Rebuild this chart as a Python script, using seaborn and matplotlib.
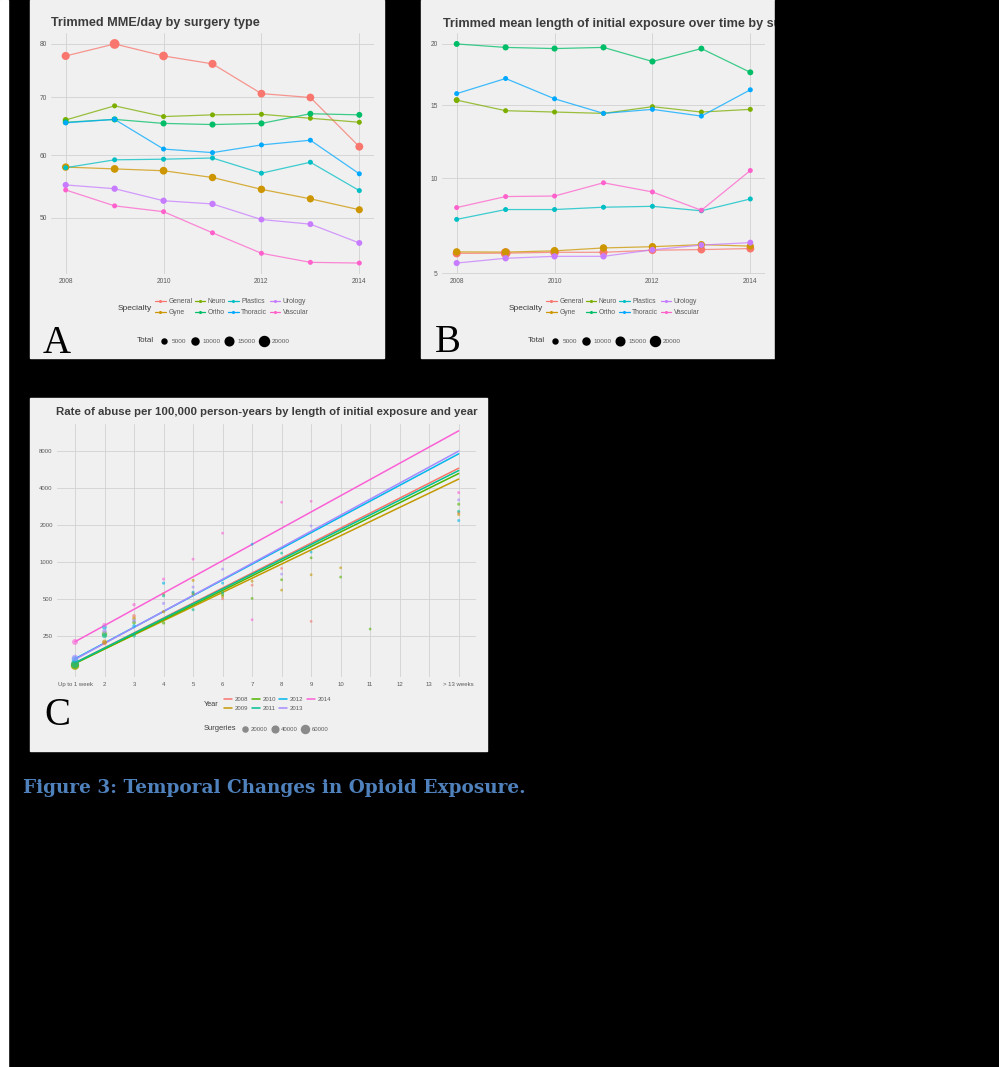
import numpy as np
import pandas as pd
import matplotlib.pyplot as plt
import seaborn as sns
from matplotlib.lines import Line2D
from matplotlib.patches import Rectangle
from matplotlib.ticker import NullLocator

W, H = 999, 1067

# ---- panels A/B data (one list per specialty, years 2008..2014) ----
years = [2008, 2009, 2010, 2011, 2012, 2013, 2014]
specialties = ['General', 'Gyne', 'Neuro', 'Ortho', 'Plastics', 'Thoracic', 'Urology', 'Vascular']
spec_colors = ['#F8766D', '#CD9600', '#7CAE00', '#00BE67', '#00BFC4', '#00A9FF', '#C77CFF', '#FF61CC']

mme_general = [77.7, 80.0, 77.7, 76.2, 70.7, 70.0, 61.4]
mme_gyne = [58.0, 57.7, 57.4, 56.3, 54.4, 52.9, 51.2]
mme_neuro = [66.0, 68.5, 66.6, 66.9, 67.0, 66.3, 65.6]
mme_ortho = [65.6, 66.1, 65.4, 65.2, 65.4, 67.1, 66.9]
mme_plastics = [57.9, 59.2, 59.3, 59.5, 57.0, 58.8, 54.2]
mme_thoracic = [65.5, 66.1, 61.0, 60.4, 61.7, 62.5, 56.9]
mme_urology = [55.1, 54.5, 52.6, 52.1, 49.7, 49.0, 46.2]
mme_vascular = [54.3, 51.8, 50.9, 47.7, 44.7, 43.4, 43.3]

days_general = [5.90, 5.91, 5.95, 5.95, 6.05, 6.08, 6.13]
days_gyne = [5.97, 5.96, 6.02, 6.16, 6.22, 6.32, 6.25]
days_neuro = [15.4, 14.6, 14.5, 14.4, 14.9, 14.5, 14.7]
days_ortho = [20.0, 19.7, 19.6, 19.7, 18.5, 19.6, 17.6]
days_plastics = [7.62, 8.16, 8.16, 8.29, 8.34, 8.09, 8.76]
days_thoracic = [15.9, 17.1, 15.5, 14.4, 14.7, 14.2, 16.2]
days_urology = [5.45, 5.67, 5.76, 5.76, 6.07, 6.30, 6.42]
days_vascular = [8.27, 8.90, 8.93, 9.72, 9.17, 8.12, 10.48]

total_general = [13000, 19000, 15000, 13000, 12000, 12000, 12500]
total_gyne = [11000, 12000, 12000, 11000, 11000, 10500, 10000]
total_neuro = [7000, 5000, 4500, 4500, 4500, 4500, 4500]
total_ortho = [7000, 7500, 7500, 7500, 7500, 7000, 7000]
total_plastics = [3500, 4500, 4500, 4500, 4500, 4500, 4500]
total_thoracic = [2500, 2500, 2500, 2500, 2500, 2500, 2500]
total_urology = [7500, 8000, 8000, 8000, 7000, 7000, 7000]
total_vascular = [3000, 3000, 3000, 3000, 3000, 3000, 3000]

mme_lists = [mme_general, mme_gyne, mme_neuro, mme_ortho, mme_plastics, mme_thoracic, mme_urology, mme_vascular]
days_lists = [days_general, days_gyne, days_neuro, days_ortho, days_plastics, days_thoracic, days_urology, days_vascular]
total_lists = [total_general, total_gyne, total_neuro, total_ortho, total_plastics, total_thoracic, total_urology, total_vascular]
total_breaks = [5000, 10000, 15000, 20000]

# ---- panel C data ----
exposure_labels = ['Up to 1 week', '2', '3', '4', '5', '6', '7', '8', '9', '10', '11', '12', '13', '> 13 weeks']
abuse_years = ['2008', '2009', '2010', '2011', '2012', '2013', '2014']
year_colors = ['#F8766D', '#C49A00', '#53B400', '#00C094', '#00B6EB', '#A58AFF', '#FB61D7']

c_exposure = [1, 1, 1, 1, 1, 1, 1,
              2, 2, 2, 2, 2, 2, 2,
              3, 3, 3, 3, 3, 3, 3,
              4, 4, 4, 4, 4, 4, 4,
              5, 5, 5, 5, 5, 5, 5,
              6, 6, 6, 6, 6, 6, 6,
              7, 7, 7, 7, 7,
              8, 8, 8, 8, 8, 8,
              9, 9, 9, 9, 9, 9,
              10, 10, 11,
              14, 14, 14, 14, 14, 14, 14]
c_year = ['2008', '2009', '2010', '2011', '2012', '2013', '2014',
          '2008', '2009', '2010', '2011', '2012', '2013', '2014',
          '2008', '2009', '2010', '2011', '2012', '2013', '2014',
          '2008', '2009', '2010', '2011', '2012', '2013', '2014',
          '2008', '2009', '2010', '2011', '2012', '2013', '2014',
          '2008', '2009', '2010', '2011', '2012', '2013', '2014',
          '2008', '2009', '2010', '2012', '2014',
          '2008', '2009', '2010', '2011', '2013', '2014',
          '2008', '2009', '2010', '2012', '2013', '2014',
          '2009', '2010', '2010',
          '2008', '2009', '2010', '2011', '2012', '2013', '2014']
c_rate = [146, 142, 143, 147, 160, 165, 222,
          218, 222, 258, 250, 292, 272, 305,
          362, 345, 320, 250, 300, 332, 447,
          549, 392, 317, 529, 670, 458, 723,
          560, 705, 548, 407, 565, 622, 1051,
          500, 522, 539, 560, 670, 872, 1712,
          645, 695, 503, 1392, 337,
          883, 588, 714, 1177, 794, 3060,
          327, 784, 1078, 1199, 1963, 3117,
          894, 751, 283,
          2520, 2430, 2950, 2580, 2170, 3200, 3670]
c_surgeries = [62000, 65000, 63000, 60000, 38000, 35000, 30000,
               16000, 17000, 24000, 20000, 15000, 14000, 12000,
               7000, 7000, 7500, 7000, 6500, 6000, 5000,
               3500, 3500, 3500, 3500, 3000, 3000, 2500,
               2000, 2000, 2000, 2000, 1800, 1800, 1500,
               1500, 1500, 1500, 1500, 1300, 1300, 1000,
               1000, 1000, 1000, 900, 800,
               900, 900, 900, 900, 800, 700,
               700, 700, 700, 600, 600, 500,
               600, 600, 500,
               2500, 2500, 2500, 2500, 2200, 2200, 2000]
surgery_breaks = [20000, 40000, 60000]

# fitted trend lines (value at first and last exposure category)
fit_start = [150, 149, 148, 150, 162, 160, 223]
fit_end = [5800, 4730, 5250, 5550, 7600, 8000, 11700]

rows = []
for sp, m, d, t in zip(specialties, mme_lists, days_lists, total_lists):
    for yr, mv, dv, tv in zip(years, m, d, t):
        rows.append((sp, yr, mv, dv, tv))
df_spec = pd.DataFrame(rows, columns=['Specialty', 'year', 'mme', 'days', 'Total'])

df_abuse = pd.DataFrame({'exposure': c_exposure, 'Year': c_year, 'rate': c_rate, 'Surgeries': c_surgeries})
fit_rows = []
for yr, a, b in zip(abuse_years, fit_start, fit_end):
    fit_rows.append((yr, 1, a))
    fit_rows.append((yr, 14, b))
df_fit = pd.DataFrame(fit_rows, columns=['Year', 'exposure', 'rate'])

sns.set_style('white')
plt.rcParams['font.family'] = ['Liberation Sans', 'DejaVu Sans']

BG = '#F0F0F0'
GRID = '#D2D2D2'
TXT = '#3C3C3C'
TICK = '#5A5A5A'


def rect(l, t, r, b):
    return [l / W, 1 - b / H, (r - l) / W, (b - t) / H]


def style(ax):
    ax.set_facecolor(BG)
    for s in ax.spines.values():
        s.set_visible(False)
    ax.grid(True, color=GRID, lw=0.6)
    ax.set_axisbelow(True)
    ax.tick_params(length=0, labelsize=4.8, colors=TICK, pad=3)
    ax.set_xlabel('')
    ax.set_ylabel('')


def sqrt_limits(vals):
    lo, hi = np.sqrt(min(vals)), np.sqrt(max(vals))
    pad = 0.05 * (hi - lo)
    return (lo - pad) ** 2, (hi + pad) ** 2


fig = plt.figure(figsize=(W / 100, H / 100), dpi=100, facecolor='black')

# panel backgrounds
for l, t, r, b in [(30, 0, 384, 358), (421, 0, 775, 358), (30, 398, 487, 751)]:
    fig.patches.append(Rectangle((l / W, 1 - b / H), (r - l) / W, (b - t) / H,
                                 transform=fig.transFigure, color=BG, zorder=-5))
fig.patches.append(Rectangle((0, 0), 8 / W, 1, transform=fig.transFigure, color='white', zorder=-5))


def spec_panel(ax, ycol, ticks):
    sns.lineplot(data=df_spec, x='year', y=ycol, hue='Specialty', hue_order=specialties,
                 palette=spec_colors, lw=0.9, alpha=0.75, legend=False, ax=ax)
    sns.scatterplot(data=df_spec, x='year', y=ycol, hue='Specialty', hue_order=specialties,
                    palette=spec_colors, size='Total', sizes=(13, 52), size_norm=(5000, 20000),
                    linewidth=0, legend=False, ax=ax, zorder=3)
    ax.set_yscale('function', functions=(np.sqrt, np.square))
    ax.set_ylim(*sqrt_limits(df_spec[ycol]))
    ax.set_yticks(ticks)
    ax.set_yticklabels([str(v) for v in ticks])
    ax.set_xlim(2007.7, 2014.3)
    ax.set_xticks([2008, 2010, 2012, 2014])
    ax.set_xticklabels(['2008', '2010', '2012', '2014'])
    ax.yaxis.set_minor_locator(NullLocator())
    style(ax)


def spec_legends(dx):
    handles = [Line2D([0], [0], color=c, lw=0.9, marker='o', markersize=2.2, markeredgewidth=0)
               for c in spec_colors]
    fig.legend(handles, specialties, ncol=4, loc='center left',
               bbox_to_anchor=((155.3 + dx) / W, 1 - 307 / H), frameon=False, fontsize=4.9,
               handlelength=1.5, handletextpad=0.4, columnspacing=0.35, labelspacing=0.6,
               borderpad=0, borderaxespad=0, labelcolor=TICK)
    fig.text((117.3 + dx) / W, 1 - 308 / H, 'Specialty', fontsize=6, color=TXT, va='center')
    sizes = [np.sqrt(13 + (v - 5000) * 39 / 15000) for v in total_breaks]
    sh = [Line2D([0], [0], ls='', marker='o', color='black', markersize=s) for s in sizes]
    fig.legend(sh, [str(v) for v in total_breaks], ncol=4, loc='center left',
               bbox_to_anchor=((159.2 + dx) / W, 1 - 341 / H), frameon=False, fontsize=4.6,
               handlelength=1.5, handletextpad=0.5, columnspacing=0.56,
               borderpad=0, borderaxespad=0, labelcolor=TICK)
    fig.text((137 + dx) / W, 1 - 341 / H, 'Total', fontsize=5.8, color=TXT, va='center')


def fit_width(txt, target):
    fig.canvas.draw()
    w = txt.get_window_extent().width
    txt.set_fontsize(txt.get_fontsize() * target / w)


# ---- A ----
ax_a = fig.add_axes(rect(51, 33, 374, 274))
spec_panel(ax_a, 'mme', [50, 60, 70, 80])
spec_legends(0)
t_a = fig.text(51 / W, 1 - 25.7 / H, 'Trimmed MME/day by surgery type', fontsize=9,
               fontweight='bold', color=TXT, va='baseline')
fit_width(t_a, 209.6)

# ---- B ----
ax_b = fig.add_axes(rect(442, 33, 765, 274))
spec_panel(ax_b, 'days', [5, 10, 15, 20])
spec_legends(391)
fig.text(443 / W, 1 - 26.7 / H, 'Trimmed mean length of initial exposure over time by surgery type',
         fontsize=t_a.get_fontsize(), fontweight='bold', color=TXT, va='baseline', zorder=3)
fig.patches.append(Rectangle((775 / W, 1 - 360 / H), (W - 775) / W, 360 / H,
                             transform=fig.transFigure, color='black', zorder=10))

# ---- C ----
ax_c = fig.add_axes(rect(57.3, 424, 476.4, 677))
sns.lineplot(data=df_fit, x='exposure', y='rate', hue='Year', hue_order=abuse_years,
             palette=year_colors, lw=1.1, legend=False, ax=ax_c)
sns.scatterplot(data=df_abuse, x='exposure', y='rate', hue='Year', hue_order=abuse_years,
                palette=year_colors, size='Surgeries', sizes=(4, 36), size_norm=(500, 65000),
                alpha=0.6, linewidth=0, legend=False, ax=ax_c, zorder=3)
ax_c.set_yscale('log', base=2)
ax_c.set_ylim(115, 13300)
ax_c.set_yticks([250, 500, 1000, 2000, 4000, 8000])
ax_c.set_yticklabels(['250', '500', '1000', '2000', '4000', '8000'])
ax_c.yaxis.set_minor_locator(NullLocator())
ax_c.set_xlim(0.4, 14.6)
ax_c.set_xticks(range(1, 15))
ax_c.set_xticklabels(exposure_labels)
style(ax_c)
ax_c.tick_params(labelsize=4.3, pad=3.3)

t_c = fig.text(56 / W, 1 - 415 / H,
               'Rate of abuse per 100,000 person-years by length of initial exposure and year',
               fontsize=8, fontweight='bold', color=TXT, va='baseline')
fit_width(t_c, 420)

yh = [Line2D([0], [0], color=c, lw=1.1) for c in year_colors]
fig.legend(yh, abuse_years, ncol=4, loc='center left', bbox_to_anchor=(224 / W, 1 - 704.2 / H),
           frameon=False, fontsize=4.3, handlelength=1.33, handletextpad=0.45, columnspacing=0.6,
           labelspacing=0.65, borderpad=0, borderaxespad=0, labelcolor=TICK)
fig.text(204 / W, 1 - 704 / H, 'Year', fontsize=5.3, color=TXT, va='center')
ssz = [np.sqrt(4 + (v - 500) * 32 / 64500) for v in surgery_breaks]
sh = [Line2D([0], [0], ls='', marker='o', color='#8A8A8A', markersize=s) for s in ssz]
fig.legend(sh, [str(v) for v in surgery_breaks], ncol=3, loc='center left',
           bbox_to_anchor=(241 / W, 1 - 729 / H), frameon=False, fontsize=4.3,
           handlelength=1.35, handletextpad=0.33, columnspacing=0.55,
           borderpad=0, borderaxespad=0, labelcolor=TICK)
fig.text(204 / W, 1 - 729 / H, 'Surgeries', fontsize=5.4, color=TXT, va='center')

# panel letters
fig.text(43 / W, 1 - 353 / H, 'A', fontsize=28, family='Liberation Serif', color='black', va='baseline')
fig.text(434.7 / W, 1 - 352 / H, 'B', fontsize=28, family='Liberation Serif', color='black', va='baseline')
fig.text(44 / W, 1 - 725 / H, 'C', fontsize=28, family='Liberation Serif', color='black', va='baseline')

cap = fig.text(22.7 / W, 1 - 793.3 / H, 'Figure 3: Temporal Changes in Opioid Exposure.',
               fontsize=13, family='DejaVu Serif', fontweight='bold', color='#4F81BD', va='baseline')
fit_width(cap, 502)

fig.savefig('out.png', dpi=100, facecolor='black')
